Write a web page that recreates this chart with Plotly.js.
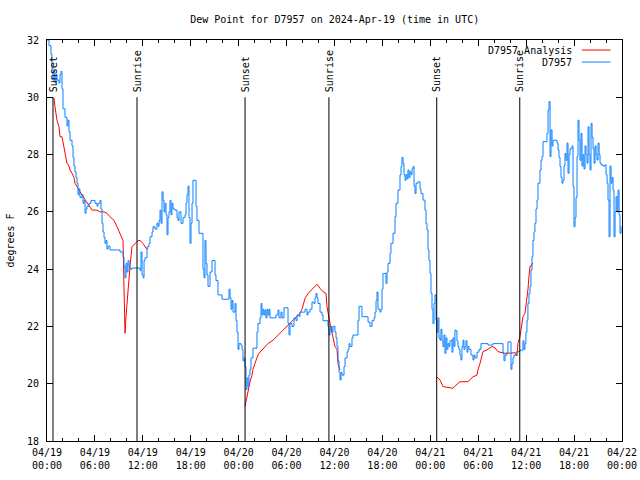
<!DOCTYPE html>
<html>
<head>
<meta charset="utf-8">
<script src="https://cdn.plot.ly/plotly-3.0.1.min.js"></script>
<style>html,body{margin:0;padding:0;background:#fff;}#chart{width:640px;height:480px;}</style>
</head>
<body>
<div id="chart"></div>
<script>
// Hours since 2024-04-19 00:00 UTC
const tickHours = [0, 6, 12, 18, 24, 30, 36, 42, 48, 54, 60, 66, 72];
const tickLabels = ["04/19<br>00:00","04/19<br>06:00","04/19<br>12:00","04/19<br>18:00",
  "04/20<br>00:00","04/20<br>06:00","04/20<br>12:00","04/20<br>18:00",
  "04/21<br>00:00","04/21<br>06:00","04/21<br>12:00","04/21<br>18:00","04/22<br>00:00"];

const sunHours = [0.75, 11.27, 24.8, 35.3, 48.8, 59.2];
const sunLabels = ["Sunset","Sunrise","Sunset","Sunrise","Sunset","Sunrise"];

// D7957 observations
const obsHours = [0.00,0.25,0.50,0.63,0.75,0.88,1.00,1.13,1.25,1.50,1.63,1.75,1.88,2.00,2.25,2.50,2.63,2.75,2.88,3.13,
3.26,3.38,3.51,3.63,3.76,3.88,4.01,4.13,4.38,4.51,4.63,4.76,4.88,5.01,5.26,5.51,5.76,6.01,6.26,6.39,
6.64,6.76,6.89,7.01,7.14,7.26,7.39,7.51,7.64,7.89,8.26,8.77,9.14,9.52,9.64,9.77,9.89,10.02,10.14,10.27,
10.39,10.64,11.27,11.65,11.77,11.90,12.02,12.15,12.27,12.52,12.77,12.90,13.15,13.27,13.52,13.77,13.90,14.03,14.15,14.28,
14.40,14.53,14.65,14.78,14.90,15.03,15.15,15.28,15.40,15.53,15.65,15.78,16.03,16.28,16.40,16.53,16.78,17.03,17.28,17.41,
17.53,17.66,17.78,17.91,18.03,18.16,18.28,18.53,18.66,18.78,19.03,19.41,19.53,19.66,19.78,19.91,20.03,20.16,20.41,20.66,
20.91,21.04,21.16,21.41,21.91,22.54,22.79,22.92,23.04,23.17,23.29,23.54,23.67,23.79,23.92,24.04,24.29,24.42,24.54,24.67,
24.79,24.92,25.04,25.17,25.29,25.42,25.54,25.79,26.17,26.29,26.42,26.67,26.80,26.92,27.05,27.17,27.30,27.42,27.55,27.67,
27.80,27.92,28.30,28.67,28.92,29.05,29.30,29.43,29.68,30.05,30.18,30.30,30.43,30.68,30.93,31.18,31.31,31.56,31.68,32.06,
32.31,32.56,32.68,32.93,33.18,33.43,33.56,33.68,33.81,33.93,34.19,34.44,34.56,34.94,35.19,35.31,35.44,35.56,35.69,35.81,
36.06,36.19,36.31,36.44,36.57,36.69,36.82,36.94,37.19,37.32,37.57,37.69,37.82,37.94,38.19,38.32,38.82,38.94,39.07,39.32,
39.44,39.94,40.20,40.45,40.70,40.95,41.07,41.20,41.32,41.45,41.70,41.82,41.95,42.07,42.32,42.45,42.57,42.70,42.95,43.07,
43.33,43.58,43.70,43.95,44.20,44.33,44.45,44.58,44.70,44.83,44.95,45.08,45.20,45.33,45.45,45.58,45.71,45.83,45.96,46.08,
46.21,46.46,46.71,46.83,47.08,47.33,47.46,47.58,47.71,47.83,47.96,48.08,48.21,48.33,48.46,48.58,48.71,48.83,48.96,49.08,
49.21,49.33,49.46,49.58,49.71,49.83,49.96,50.08,50.21,50.33,50.46,50.58,50.71,50.83,50.96,51.08,51.21,51.33,51.46,51.58,
51.71,51.83,51.96,52.09,52.21,52.34,52.46,52.59,52.71,52.84,53.09,53.34,53.46,53.59,53.84,54.09,54.34,54.84,55.22,55.84,
56.60,56.97,57.10,57.22,57.35,57.60,57.72,57.97,58.10,58.22,58.35,58.47,58.72,58.97,59.22,59.47,59.60,59.72,59.85,59.97,
60.10,60.22,60.35,60.48,60.60,60.73,60.85,60.98,61.10,61.23,61.36,61.48,61.73,61.86,61.98,62.11,62.48,62.61,62.74,62.86,
62.99,63.11,63.24,63.36,63.61,63.86,63.99,64.11,64.24,64.36,64.49,64.61,64.74,64.86,64.99,65.12,65.24,65.37,65.49,65.74,
65.87,65.99,66.12,66.24,66.37,66.49,66.62,66.74,66.87,66.99,67.12,67.24,67.37,67.50,67.62,67.75,67.87,68.00,68.12,68.25,
68.37,68.50,68.62,68.75,68.87,69.00,69.13,69.25,69.38,69.63,69.88,70.00,70.13,70.25,70.38,70.50,70.63,70.75,70.88,71.00,
71.13,71.25,71.38,71.50,71.63,71.75,71.88];
const obsDew = [32.0,31.8,31.5,31.0,30.6,30.9,30.5,30.8,30.6,30.5,30.8,30.9,30.3,29.6,29.3,29.0,29.2,28.8,28.5,28.3,
27.9,27.6,27.4,27.2,27.0,26.6,26.8,26.5,26.6,26.3,26.4,25.95,26.1,26.2,26.3,26.4,26.4,26.3,26.2,26.3,
26.4,26.1,25.6,25.3,25.1,24.9,25.0,24.7,24.8,24.67,24.67,24.67,24.6,24.43,24.1,23.7,24.2,23.9,24.3,24.1,
24.0,24.04,24.04,23.95,24.6,23.8,23.7,24.3,24.4,24.78,24.9,25.13,25.3,25.48,25.4,25.6,25.5,25.7,26.06,25.6,
26.7,26.4,26.0,26.3,25.9,25.2,25.8,26.0,26.4,25.9,26.3,26.1,26.06,25.8,25.7,26.0,25.6,25.8,25.9,26.3,
26.6,26.9,25.8,24.9,25.6,26.3,27.1,27.1,26.2,25.7,25.25,25.25,24.0,23.7,25.0,24.2,23.8,23.4,23.9,24.3,
24.3,23.8,23.6,23.1,22.95,22.95,23.3,23.0,22.6,22.9,22.5,22.8,22.2,21.8,21.2,21.4,21.35,21.2,20.8,20.9,
20.6,19.8,20.2,19.9,20.3,20.5,20.9,21.24,21.24,21.8,22.1,22.3,22.8,22.4,22.6,22.4,22.57,22.3,22.6,22.4,
22.6,22.3,22.3,22.4,22.57,22.3,22.5,22.3,22.65,22.65,22.1,21.7,22.1,22.0,22.3,22.2,22.4,22.35,22.5,22.5,
22.6,22.4,22.5,22.6,22.85,22.8,23.0,23.15,23.0,22.8,22.5,22.4,22.2,22.2,22.0,21.7,21.9,22.0,21.8,22.0,
21.8,21.6,21.3,20.8,20.4,20.13,20.4,20.3,20.6,20.9,21.1,21.2,21.4,21.3,21.6,21.7,21.7,22.2,22.7,22.7,
22.34,22.34,22.15,22.0,22.2,22.3,22.5,22.9,23.2,22.6,22.5,22.6,23.3,23.85,23.85,23.5,23.9,24.2,24.55,24.9,
25.25,25.83,26.3,26.76,27.29,27.58,27.9,27.7,27.3,27.1,27.3,27.15,27.46,27.2,27.4,27.3,27.5,27.58,26.9,26.64,
27.0,27.05,26.8,26.64,26.41,26.06,25.6,25.37,24.67,24.3,23.86,23.16,22.6,22.1,22.8,23.1,22.22,21.8,22.3,21.6,
21.52,21.9,21.5,21.3,21.7,21.06,21.6,21.2,21.4,21.3,21.5,21.52,21.1,21.6,21.3,21.87,21.85,21.5,21.3,21.2,
21.0,20.83,21.3,21.52,21.2,21.3,21.5,21.1,21.3,21.2,21.0,20.83,21.0,20.9,21.1,21.2,21.4,21.4,21.35,21.4,
21.4,21.4,21.06,20.8,21.0,21.1,21.46,21.46,20.5,20.7,20.9,21.0,21.1,21.12,21.17,21.17,21.5,21.2,21.4,21.8,
22.22,22.8,23.15,23.4,23.97,24.44,25.0,25.3,25.6,26.1,26.41,27.0,27.46,27.8,27.93,28.45,28.45,28.74,29.55,29.85,
27.93,28.86,28.3,28.5,28.5,28.4,28.16,27.9,27.58,27.2,27.0,27.1,27.6,28.04,27.8,28.4,27.35,28.0,28.2,28.3,
26.88,25.48,25.8,26.5,27.93,29.2,28.5,27.8,28.74,27.6,28.0,27.5,28.3,28.0,27.7,28.97,28.0,27.46,29.09,28.6,
28.2,27.7,28.3,28.0,27.81,28.4,28.0,27.7,27.64,27.6,27.64,27.3,27.0,26.41,25.13,27.6,27.0,27.2,26.76,25.13,
26.0,26.53,26.0,26.76,25.9,25.25,25.5];

// D7957 Analysis (three nightly segments, null = gap)
const anaHours = [0.75,0.88,1.00,1.25,1.50,1.63,1.88,2.13,2.25,2.50,2.75,2.88,3.13,3.38,3.51,3.76,4.01,4.13,4.38,4.63,
4.76,5.01,5.26,5.63,6.26,6.64,7.14,7.51,7.89,8.39,8.77,9.14,9.52,9.64,9.77,9.89,10.02,10.14,10.39,10.64,
11.02,11.40,11.65,12.02,12.40,12.65,
18.0,
24.79,25.04,25.17,25.42,25.67,25.79,26.04,26.17,26.42,26.67,26.92,27.30,27.67,28.30,28.93,29.55,30.05,30.43,31.05,31.68,
31.93,32.06,32.31,32.68,33.31,33.81,34.19,34.56,34.94,35.06,35.44,35.69,36.06,36.31,36.44,36.69,
42.0,
48.83,49.21,49.58,50.21,50.83,51.21,51.71,52.71,53.34,53.84,53.96,54.22,54.47,54.59,55.09,55.72,56.10,56.47,57.35,58.22,
58.60,58.85,58.97,59.22,59.47,59.60,59.85,60.10,60.22,60.35,60.48,60.60,60.73,60.85];
const anaDew = [29.96,29.96,29.67,29.2,28.97,28.62,28.62,28.28,28.04,27.7,27.6,27.46,27.35,27.2,27.0,26.9,26.76,26.7,26.59,26.5,
26.41,26.3,26.18,26.06,26.06,26.0,26.0,25.95,25.83,25.7,25.48,25.25,25.0,23.4,21.76,22.34,22.8,23.5,24.08,24.78,
24.9,25.0,25.0,24.9,24.73,24.7,
null,
19.2,19.55,19.78,20.07,20.3,20.5,20.71,20.8,21.0,21.1,21.18,21.3,21.4,21.52,21.7,21.87,22.0,22.1,22.28,22.46,
22.6,22.75,22.98,23.15,23.33,23.47,23.33,23.21,23.15,22.69,22.1,21.76,21.3,21.2,20.7,20.48,
null,
20.24,20.13,19.9,19.87,19.84,19.95,20.07,20.07,20.24,20.3,20.48,20.71,20.94,21.12,21.18,21.3,21.25,21.12,21.06,21.06,
21.08,20.97,21.4,21.64,22.1,22.34,22.46,22.92,23.27,23.74,24.1,24.1,24.2,24.2];

const seriesNames = ["D7957 Analysis", "D7957"];
const seriesColors = ["#ff0000", "#0a80ff"];

const FONT = "DejaVu Sans Mono, Liberation Mono, monospace";

const traces = [
  {x: anaHours, y: anaDew, type: "scatter", mode: "lines", name: seriesNames[0],
   connectgaps: false, line: {color: seriesColors[0], width: 1}, showlegend: false},
  {x: obsHours, y: obsDew, type: "scatter", mode: "lines", name: seriesNames[1],
   line: {color: seriesColors[1], width: 1, shape: "hv"}, showlegend: false}
];

const shapes = [];
const annotations = [];
sunHours.forEach((h, i) => {
  shapes.push({type: "line", xref: "x", yref: "y", x0: h, x1: h, y0: 18, y1: 30,
               line: {color: "#000", width: 1}});
  annotations.push({x: h, y: 30, xref: "x", yref: "y", text: sunLabels[i], textangle: -90,
                    showarrow: false, xanchor: "center", yanchor: "bottom", yshift: 3,
                    font: {family: FONT, size: 10, color: "#000"}});
});

// gnuplot-style key: text right-aligned, sample line on the right
seriesNames.forEach((n, i) => {
  const yp = 0.975 - i * 0.03;
  annotations.push({x: 0.917, y: yp, xref: "paper", yref: "paper", text: n, showarrow: false,
                    xanchor: "right", yanchor: "middle", font: {family: FONT, size: 10, color: "#000"}});
  shapes.push({type: "line", xref: "paper", yref: "paper", x0: 0.93, x1: 0.98, y0: yp, y1: yp,
               line: {color: seriesColors[i], width: 1}});
});

const layout = {
  width: 640, height: 480,
  margin: {l: 47, r: 18, t: 40, b: 39},
  paper_bgcolor: "#fff", plot_bgcolor: "#fff",
  font: {family: FONT, size: 10, color: "#000"},
  title: {text: "Dew Point for D7957 on 2024-Apr-19 (time in UTC)", x: 0.523, xanchor: "center",
          y: 0.96, yanchor: "middle", font: {family: FONT, size: 10, color: "#000"}},
  xaxis: {range: [0, 72], tickmode: "array", tickvals: tickHours, ticktext: tickLabels,
          ticks: "inside", ticklen: 6, tickcolor: "#000", showline: true, linecolor: "#000",
          linewidth: 1, mirror: "allticks", showgrid: false, zeroline: false,
          ticklabelstandoff: 2,
          minor: {tickmode: "linear", tick0: 0, dtick: 2, ticks: "inside", ticklen: 3, tickcolor: "#000", showgrid: false},
          tickfont: {family: FONT, size: 10, color: "#000"}},
  yaxis: {range: [18, 32], dtick: 2, tick0: 18, ticks: "inside", ticklen: 6, tickcolor: "#000",
          showline: true, linecolor: "#000", linewidth: 1, mirror: "allticks", showgrid: false,
          zeroline: false, ticklabelstandoff: 5, tickfont: {family: FONT, size: 10, color: "#000"},
          title: {text: "degrees F", standoff: 10, font: {family: FONT, size: 10, color: "#000"}}},
  shapes: shapes,
  annotations: annotations,
  showlegend: false
};

Plotly.newPlot("chart", traces, layout, {staticPlot: true, displayModeBar: false});
</script>
</body>
</html>
